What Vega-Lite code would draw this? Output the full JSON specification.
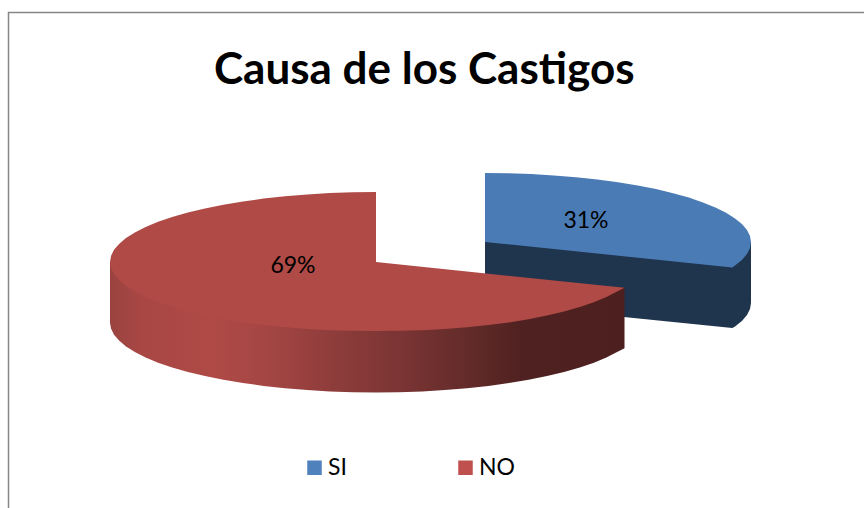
{"$schema":"https://vega.github.io/schema/vega-lite/v6.json","width":864,"height":508,"autosize":{"type":"none"},"padding":0,"background":"white","view":{"stroke":null},
"datasets":{"shapes":[
{"part":"navy","t":1,"x":485,"y":242},{"part":"navy","t":90,"x":751,"y":242},{"part":"navy","t":91,"x":751,"y":303},{"part":"navy","t":95,"x":750,"y":309},{"part":"navy","t":100,"x":747,"y":315},{"part":"navy","t":105,"x":741.9,"y":320.9},{"part":"navy","t":110,"x":735,"y":326.6},{"part":"navy","t":111.6,"x":732.3,"y":328},{"part":"navy","t":200,"x":485,"y":303},
{"part":"blue","t":-1,"x":485,"y":242},{"part":"blue","t":0,"x":485,"y":173},{"part":"blue","t":5,"x":508.2,"y":173.3},{"part":"blue","t":10,"x":531.2,"y":174},{"part":"blue","t":15,"x":553.8,"y":175.4},{"part":"blue","t":20,"x":576,"y":177.2},{"part":"blue","t":25,"x":597.4,"y":179.5},{"part":"blue","t":30,"x":618,"y":182.2},{"part":"blue","t":35,"x":637.6,"y":185.5},{"part":"blue","t":40,"x":656,"y":189.1},{"part":"blue","t":45,"x":673.1,"y":193.2},{"part":"blue","t":50,"x":688.8,"y":197.6},{"part":"blue","t":55,"x":702.9,"y":202.4},{"part":"blue","t":60,"x":715.4,"y":207.5},{"part":"blue","t":65,"x":726.1,"y":212.8},{"part":"blue","t":70,"x":735,"y":218.4},{"part":"blue","t":75,"x":741.9,"y":224.1},{"part":"blue","t":80,"x":747,"y":230},{"part":"blue","t":85,"x":750,"y":236},{"part":"blue","t":90,"x":751,"y":242},{"part":"blue","t":95,"x":750,"y":248},{"part":"blue","t":100,"x":747,"y":254},{"part":"blue","t":105,"x":741.9,"y":259.9},{"part":"blue","t":110,"x":735,"y":265.6},{"part":"blue","t":111.6,"x":732.3,"y":267.4},
{"part":"side","t":100,"x":624.5,"y":287.8},{"part":"side","t":111.6,"x":624.5,"y":348.3},{"part":"side","t":115,"x":617.1,"y":352.1},{"part":"side","t":120,"x":606.4,"y":357.5},{"part":"side","t":125,"x":593.9,"y":362.7},{"part":"side","t":130,"x":579.8,"y":367.5},{"part":"side","t":135,"x":564.1,"y":372},{"part":"side","t":140,"x":547,"y":376.1},{"part":"side","t":145,"x":528.6,"y":379.8},{"part":"side","t":150,"x":509,"y":383.1},{"part":"side","t":155,"x":488.4,"y":385.9},{"part":"side","t":160,"x":467,"y":388.3},{"part":"side","t":165,"x":444.8,"y":390.1},{"part":"side","t":170,"x":422.2,"y":391.5},{"part":"side","t":175,"x":399.2,"y":392.2},{"part":"side","t":180,"x":376,"y":392.5},{"part":"side","t":185,"x":352.8,"y":392.2},{"part":"side","t":190,"x":329.8,"y":391.5},{"part":"side","t":195,"x":307.2,"y":390.1},{"part":"side","t":200,"x":285,"y":388.3},{"part":"side","t":205,"x":263.6,"y":385.9},{"part":"side","t":210,"x":243,"y":383.1},{"part":"side","t":215,"x":223.4,"y":379.8},{"part":"side","t":220,"x":205,"y":376.1},{"part":"side","t":225,"x":187.9,"y":372},{"part":"side","t":230,"x":172.2,"y":367.5},{"part":"side","t":235,"x":158.1,"y":362.7},{"part":"side","t":240,"x":145.6,"y":357.5},{"part":"side","t":245,"x":134.9,"y":352.1},{"part":"side","t":250,"x":126,"y":346.4},{"part":"side","t":255,"x":119.1,"y":340.6},{"part":"side","t":260,"x":114,"y":334.7},{"part":"side","t":265,"x":111,"y":328.6},{"part":"side","t":270,"x":110,"y":323},{"part":"side","t":271,"x":110,"y":262},
{"part":"red","t":100,"x":376,"y":262},{"part":"red","t":111.6,"x":624.5,"y":287.8},{"part":"red","t":115,"x":617.1,"y":291.6},{"part":"red","t":120,"x":606.4,"y":297},{"part":"red","t":125,"x":593.9,"y":302.2},{"part":"red","t":130,"x":579.8,"y":307},{"part":"red","t":135,"x":564.1,"y":311.5},{"part":"red","t":140,"x":547,"y":315.6},{"part":"red","t":145,"x":528.6,"y":319.3},{"part":"red","t":150,"x":509,"y":322.4},{"part":"red","t":155,"x":488.4,"y":325},{"part":"red","t":160,"x":467,"y":327.2},{"part":"red","t":165,"x":444.8,"y":329},{"part":"red","t":170,"x":422.2,"y":330.2},{"part":"red","t":175,"x":399.2,"y":330.8},{"part":"red","t":180,"x":376,"y":331},{"part":"red","t":185,"x":352.8,"y":330.8},{"part":"red","t":190,"x":329.8,"y":330.2},{"part":"red","t":195,"x":307.2,"y":329},{"part":"red","t":200,"x":285,"y":327.2},{"part":"red","t":205,"x":263.6,"y":325},{"part":"red","t":210,"x":243,"y":322.4},{"part":"red","t":215,"x":223.4,"y":319.3},{"part":"red","t":220,"x":205,"y":315.6},{"part":"red","t":225,"x":187.9,"y":311.5},{"part":"red","t":230,"x":172.2,"y":307},{"part":"red","t":235,"x":158.1,"y":302.2},{"part":"red","t":240,"x":145.6,"y":297},{"part":"red","t":245,"x":134.9,"y":291.6},{"part":"red","t":250,"x":126,"y":285.9},{"part":"red","t":255,"x":119.1,"y":280.1},{"part":"red","t":260,"x":114,"y":274.2},{"part":"red","t":265,"x":111,"y":268.1},{"part":"red","t":270,"x":110,"y":262},{"part":"red","t":275,"x":111,"y":255.9},{"part":"red","t":280,"x":114,"y":249.8},{"part":"red","t":285,"x":119.1,"y":243.9},{"part":"red","t":290,"x":126,"y":238.1},{"part":"red","t":295,"x":134.9,"y":232.4},{"part":"red","t":300,"x":145.6,"y":227},{"part":"red","t":305,"x":158.1,"y":221.8},{"part":"red","t":310,"x":172.2,"y":217},{"part":"red","t":315,"x":187.9,"y":212.5},{"part":"red","t":320,"x":205,"y":208.4},{"part":"red","t":325,"x":223.4,"y":204.7},{"part":"red","t":330,"x":243,"y":201.4},{"part":"red","t":335,"x":263.6,"y":198.6},{"part":"red","t":340,"x":285,"y":196.2},{"part":"red","t":345,"x":307.2,"y":194.4},{"part":"red","t":350,"x":329.8,"y":193},{"part":"red","t":355,"x":352.8,"y":192.3},{"part":"red","t":360,"x":376,"y":192},
{"part":"frame","t":1,"x":8.5,"y":508},{"part":"frame","t":2,"x":8.5,"y":12.5},{"part":"frame","t":3,"x":864,"y":12.5}
],
"slices":[{"cat":"SI","pct":"31%","x":586,"y":221},{"cat":"NO","pct":"69%","x":293,"y":266}]},
"data":{"name":"slices"},
"encoding":{"x":{"field":"x","type":"quantitative","scale":{"domain":[0,864],"nice":false,"zero":false},"axis":null},"y":{"field":"y","type":"quantitative","scale":{"domain":[508,0],"nice":false,"zero":false},"axis":null}},
"layer":[
{"data":{"name":"shapes"},"transform":[{"filter":"datum.part==='frame'"}],"mark":{"type":"line","stroke":"#868686","strokeWidth":1.5,"clip":false},"encoding":{"order":{"field":"t"}}},
{"data":{"name":"shapes"},"transform":[{"filter":"datum.part==='navy'"}],"mark":{"type":"line","fill":"#1F344D","stroke":null},"encoding":{"order":{"field":"t"}}},
{"data":{"name":"shapes"},"transform":[{"filter":"datum.part==='blue'"}],"mark":{"type":"line","fill":"#4A7BB5","stroke":null},"encoding":{"order":{"field":"t"}}},
{"data":{"name":"shapes"},"transform":[{"filter":"datum.part==='side'"}],"mark":{"type":"line","stroke":null,"fill":{"gradient":"linear","x1":0,"x2":1,"y1":0,"y2":0,"stops":[{"offset":0,"color":"#9A4340"},{"offset":0.06,"color":"#A84744"},{"offset":0.2,"color":"#AF4A46"},{"offset":0.3,"color":"#A54644"},{"offset":0.43,"color":"#8F3D3B"},{"offset":0.56,"color":"#7B3534"},{"offset":0.7,"color":"#622B29"},{"offset":0.8,"color":"#4F2120"},{"offset":1,"color":"#4D1F1E"}]}},"encoding":{"order":{"field":"t"}}},
{"data":{"name":"shapes"},"transform":[{"filter":"datum.part==='red'"}],"mark":{"type":"line","fill":"#AF4A46","stroke":null},"encoding":{"order":{"field":"t"}}},
{"mark":{"type":"text","font":"Lato","fontSize":23,"color":"#000000"},"encoding":{"text":{"field":"pct"}}},
{"mark":{"type":"point","shape":"square","filled":true,"size":0},"encoding":{"fill":{"field":"cat","type":"nominal","scale":{"domain":["SI","NO"],"range":["#4F81BD","#C0504D"]},"legend":{"title":null,"orient":"none","legendX":303,"legendY":456,"direction":"horizontal","columns":2,"symbolType":"square","symbolSize":210,"symbolOpacity":1,"labelFont":"Lato","labelFontSize":23,"labelColor":"#000000","columnPadding":107,"labelOffset":2}}}}
],
"title":{"text":"Causa de los Castigos","font":"Lato","fontSize":44,"fontWeight":"bold","color":"#000000","anchor":"start","frame":"group","offset":-93,"dx":214,"dy":0}}
